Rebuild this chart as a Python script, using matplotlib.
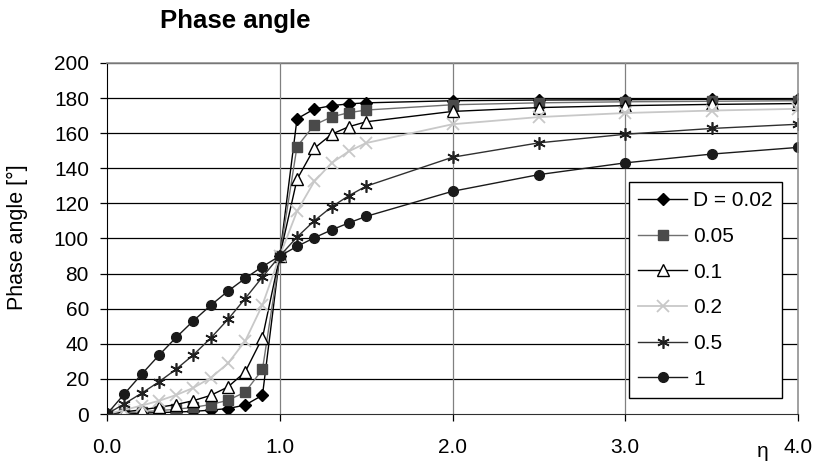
import matplotlib
matplotlib.use("Agg")
import matplotlib.pyplot as plt

plt.rcParams['font.family'] = ['Liberation Sans', 'DejaVu Sans']

# frequency ratio eta
eta = [0.0, 0.1, 0.2, 0.3, 0.4, 0.5, 0.6, 0.7, 0.8, 0.9, 1.0,
       1.1, 1.2, 1.3, 1.4, 1.5, 2.0, 2.5, 3.0, 3.5, 4.0]

# phase angle [deg] for each damping ratio
phi_002 = [0, 0.2, 0.5, 0.8, 1.1, 1.5, 2.2, 3.1, 5.1, 10.7, 90,
           168.2, 173.8, 175.7, 176.7, 177.3, 178.5, 178.9, 179.1, 179.3, 179.4]
phi_005 = [0, 0.6, 1.2, 1.9, 2.7, 3.8, 5.4, 7.8, 12.5, 25.4, 90,
           152.4, 164.7, 169.3, 171.7, 173.2, 176.2, 177.3, 177.9, 178.2, 178.5]
phi_01 = [0, 1.2, 2.4, 3.8, 5.4, 7.6, 10.6, 15.4, 24.0, 43.5, 90,
          133.7, 151.4, 159.4, 163.7, 166.5, 172.4, 174.6, 175.7, 176.4, 176.9]
phi_02 = [0, 2.3, 4.8, 7.5, 10.8, 14.9, 20.6, 28.8, 41.6, 62.2, 90,
          115.5, 132.5, 143.0, 149.7, 154.4, 165.1, 169.2, 171.5, 172.9, 173.9]
phi_05 = [0, 5.8, 11.8, 18.3, 25.5, 33.7, 43.2, 53.9, 65.8, 78.1, 90,
          100.8, 110.1, 118.0, 124.4, 129.8, 146.3, 154.5, 159.4, 162.7, 165.1]
phi_1 = [0, 11.4, 22.6, 33.4, 43.6, 53.1, 61.9, 70.0, 77.3, 84.0, 90,
         95.5, 100.4, 104.9, 108.9, 112.6, 126.9, 136.4, 143.1, 148.1, 151.9]

labels = ['D = 0.02', '0.05', '0.1', '0.2', '0.5', '1']
x_ticks = [0, 1, 2, 3, 4]
x_ticklabels = ['0.0', '1.0', '2.0', '3.0', '4.0']
y_ticks = [0, 20, 40, 60, 80, 100, 120, 140, 160, 180, 200]

fig = plt.figure(figsize=(8.18, 4.65), dpi=100)
ax = fig.add_axes([107/818, 1-414/465, 691/818, 351/465])

ax.plot(eta, phi_002, color='black', lw=1.0, marker='D', ms=6.5,
        mfc='black', mec='black', label=labels[0])
ax.plot(eta, phi_005, color='#707070', lw=1.0, marker='s', ms=6.5,
        mfc='#4a4a4a', mec='#4a4a4a', label=labels[1])
ax.plot(eta, phi_01, color='black', lw=1.0, marker='^', ms=8,
        mfc='white', mec='black', mew=1.0, label=labels[2])
ax.plot(eta, phi_02, color='#c8c8c8', lw=1.3, marker='x', ms=8,
        mec='#c8c8c8', mew=1.3, label=labels[3])
ax.plot(eta, phi_05, color='#303030', lw=1.0, marker=(6, 2, 0), ms=9,
        mec='#202020', mew=1.2, label=labels[4])
ax.plot(eta, phi_1, color='#1a1a1a', lw=1.0, marker='o', ms=7,
        mfc='#1a1a1a', mec='#1a1a1a', label=labels[5])

ax.set_xlim(0, 4)
ax.set_ylim(0, 200)
ax.set_xticks(x_ticks)
ax.set_xticklabels(x_ticklabels)
ax.set_yticks(y_ticks)

# Excel look: black horizontal grid, grey vertical grid
for y in y_ticks[1:]:
    ax.axhline(y, color='black', lw=0.9, zorder=0)
for x in x_ticks[1:-1]:
    ax.axvline(x, color='#808080', lw=0.9, zorder=0)

for s in ['top', 'right']:
    ax.spines[s].set_color('#909090')
    ax.spines[s].set_linewidth(1.2)
ax.spines['left'].set_color('black')
ax.spines['bottom'].set_color('#303030')

ax.tick_params(axis='both', direction='out', length=5, width=0.9,
               labelsize=15, colors='black')
ax.tick_params(axis='y', pad=8)
ax.tick_params(axis='x', pad=12)

ax.set_ylabel('Phase angle [°]', fontsize=15.5)
ax.yaxis.set_label_coords(-0.114, 0.503)
fig.text(763/818, 1-451/465, 'η', fontsize=15, ha='center', va='center')
fig.text(235.5/818, 1-28/465, 'Phase angle', fontsize=18.5, fontweight='bold',
         ha='center', va='baseline')

leg = ax.legend(loc='upper left', bbox_to_anchor=(0.755, 0.661),
                borderaxespad=0, fontsize=15, handlelength=2.35,
                labelspacing=0.8, handletextpad=0.3, fancybox=False,
                framealpha=1, edgecolor='black', borderpad=0.45)
leg.get_frame().set_linewidth(1.0)

fig.savefig('out.png', dpi=100)
